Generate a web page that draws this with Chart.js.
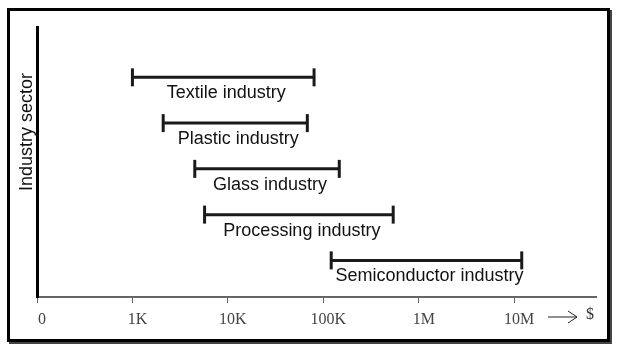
<!DOCTYPE html>
<html>
<head>
<meta charset="utf-8">
<script src="https://cdn.jsdelivr.net/npm/chart.js@4"></script>
<style>
  body { margin: 0; background: #fff; }
  #wrap { position: relative; width: 617px; height: 357px; }
  #frame { position: absolute; left: 7px; top: 8px; width: 597px; height: 328px; border: 3px solid #000; box-shadow: 2px 2px 0 #444; }
  #chart { position: absolute; left: 0; top: 0; }
</style>
</head>
<body>
<div id="wrap">
  <div id="frame"></div>
  <canvas id="chart" width="617" height="357"></canvas>
</div>
<script>
var sectors = ['Textile industry', 'Plastic industry', 'Glass industry', 'Processing industry', 'Semiconductor industry'];
var rangeStart = [1000, 2100, 4500, 5700, 121000];
var rangeEnd = [80000, 68000, 147000, 540000, 12000000];
var tickValues = [100, 1000, 10000, 100000, 1000000, 10000000];
var tickLabels = ['0', '1K', '10K', '100K', '1M', '10M'];
var yTitle = 'Industry sector';
var unitLabel = '$';

var datasets = sectors.map(function (name, i) {
    var row = sectors.length - i;
    return {
        label: name,
        data: [{x: rangeStart[i], y: row}, {x: rangeEnd[i], y: row}],
        showLine: true,
        borderColor: '#1a1a1a',
        borderWidth: 3,
        pointStyle: 'line',
        rotation: 90,
        pointRadius: 9,
        pointBorderWidth: 3,
        pointBorderColor: '#1a1a1a',
        pointBackgroundColor: '#1a1a1a'
    };
});

// sector names under each range, the y title and the "→ $" mark
var annotate = {
    id: 'annotate',
    afterDraw: function (chart) {
        var ctx = chart.ctx;
        var xs = chart.scales.x, ys = chart.scales.y;
        ctx.save();
        ctx.fillStyle = '#111';
        ctx.font = '18px "Liberation Sans", Arial, sans-serif';
        ctx.textAlign = 'center';
        ctx.textBaseline = 'middle';
        sectors.forEach(function (name, i) {
            var x1 = xs.getPixelForValue(rangeStart[i]);
            var x2 = xs.getPixelForValue(rangeEnd[i]);
            var y = ys.getPixelForValue(sectors.length - i);
            ctx.fillText(name, (x1 + x2) / 2 + 3, y + 16);
        });

        ctx.save();
        ctx.translate(27, 132);
        ctx.rotate(-Math.PI / 2);
        ctx.fillText(yTitle, 0, 0);
        ctx.restore();

        var ay = xs.top + 20;
        var ax = chart.chartArea.right - 48;
        ctx.strokeStyle = '#222';
        ctx.lineWidth = 1;
        ctx.beginPath();
        ctx.moveTo(ax, ay);
        ctx.lineTo(ax + 29, ay);
        ctx.moveTo(ax + 20, ay - 6);
        ctx.lineTo(ax + 29, ay);
        ctx.lineTo(ax + 20, ay + 6);
        ctx.stroke();
        ctx.font = '16px "Liberation Serif", serif';
        ctx.fillStyle = '#333';
        ctx.fillText(unitLabel, ax + 42, ay - 2);
        ctx.restore();
    }
};

new Chart(document.getElementById('chart'), {
    type: 'scatter',
    data: {datasets: datasets},
    options: {
        responsive: false,
        animation: false,
        layout: {padding: {left: 0, top: 27, right: 21, bottom: 0}},
        plugins: {legend: {display: false}, tooltip: {enabled: false}},
        scales: {
            x: {
                type: 'logarithmic',
                min: 100,
                max: 72000000,
                afterBuildTicks: function (scale) {
                    scale.ticks = tickValues.map(function (v) { return {value: v}; });
                },
                afterFit: function (scale) { scale.height = 60; },
                border: {color: '#666', width: 2},
                grid: {drawOnChartArea: false, drawTicks: true, tickLength: 6, color: '#666', lineWidth: 1},
                ticks: {
                    color: '#444',
                    padding: 7,
                    labelOffset: 5,
                    maxRotation: 0,
                    autoSkip: false,
                    font: {family: '"Liberation Serif", "Times New Roman", serif', size: 16},
                    callback: function (v) {
                        var k = tickValues.indexOf(v);
                        return k >= 0 ? tickLabels[k] : '';
                    }
                }
            },
            y: {
                type: 'linear',
                min: 0.2,
                max: 6.1,
                afterFit: function (scale) { scale.width = 37; },
                border: {color: '#000', width: 3},
                grid: {display: true, drawOnChartArea: false, drawTicks: false},
                ticks: {display: false}
            }
        }
    },
    plugins: [annotate]
});
</script>
</body>
</html>
